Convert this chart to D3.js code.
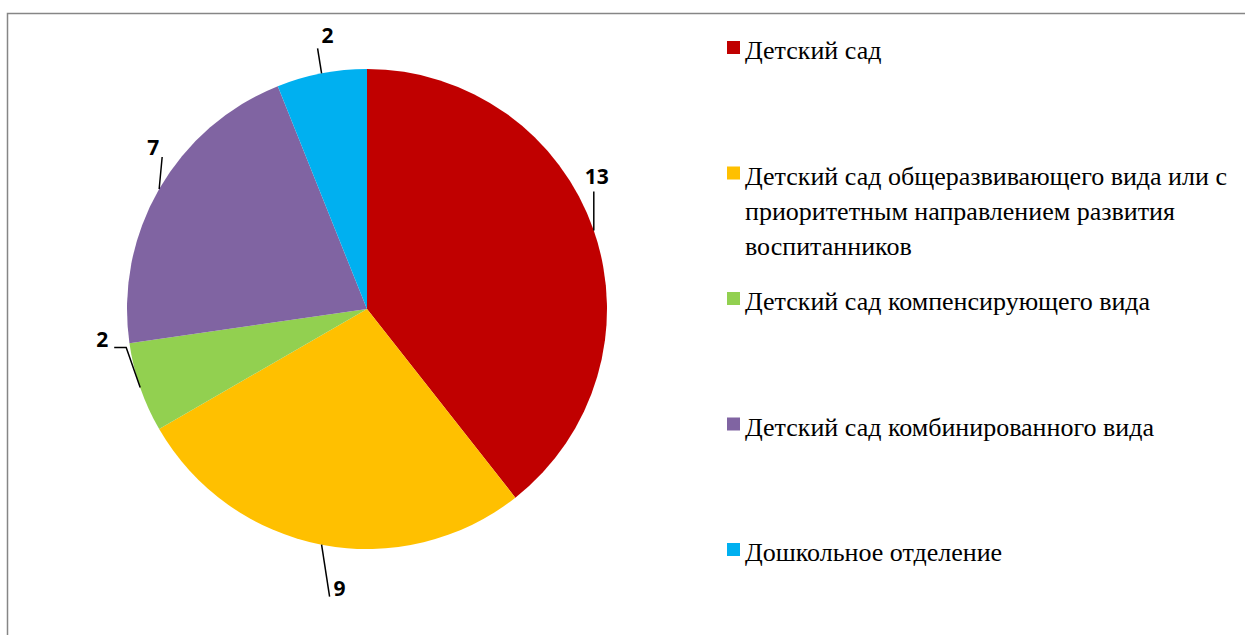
<!DOCTYPE html>
<html lang="ru">
<head>
<meta charset="UTF-8">
<title>Детские сады</title>
<script src="https://cdn.jsdelivr.net/npm/d3@7"></script>
<style>
body{margin:0;background:#fff;}
</style>
</head>
<body>
<script>
// данные
var categories = ["Детский сад",
  "Детский сад общеразвивающего вида или с приоритетным направлением развития воспитанников",
  "Детский сад компенсирующего вида",
  "Детский сад комбинированного вида",
  "Дошкольное отделение"];
var values = [13, 9, 2, 7, 2];
var colors = ["#C00000", "#FFC000", "#92D050", "#8064A2", "#00B0F0"];

// выноски: смещение излома от края сектора и смещение подписи
var leaderBend = [[0, -39], [8, 52], [-14, -40], [3, -32], [-4, -25]];
var leaderTail = [[0, 0], [0, 0], [-12, 0], [0, 0], [0, 0]];
var labelShift = [[3, -8], [10, -1], [-12, 0], [-9, -2], [10, -5]];

var width = 1245, height = 635;
var cx = 367, cy = 309, r = 240;

var svg = d3.select("body").append("svg").attr("width", width).attr("height", height);

// рамка
svg.append("rect").attr("x", 7.5).attr("y", 13.5).attr("width", 1260).attr("height", 650)
  .attr("fill", "none").attr("stroke", "#868686").attr("stroke-width", 1.5);

var pie = d3.pie().sort(null).value(function(d){return d;});
var arcs = pie(values);
var arc = d3.arc().innerRadius(0).outerRadius(r);

var g = svg.append("g").attr("transform", "translate(" + cx + "," + cy + ")");
g.selectAll("path").data(arcs).enter().append("path")
  .attr("d", arc)
  .attr("fill", function(d, i){return colors[i];});

// подписи с выносками
arcs.forEach(function(d, i){
  var a = (d.startAngle + d.endAngle) / 2;
  var p0 = [r * Math.sin(a), -r * Math.cos(a)];
  var p1 = [p0[0] + leaderBend[i][0], p0[1] + leaderBend[i][1]];
  var p2 = [p1[0] + leaderTail[i][0], p1[1] + leaderTail[i][1]];
  g.append("path").attr("d", d3.line()([p0, p1, p2]))
    .attr("fill", "none").attr("stroke", "#000").attr("stroke-width", 1.5);
  var lx = p2[0] + labelShift[i][0], ly = p2[1] + labelShift[i][1];
  g.append("text")
    .style("font-family", "'Open Sans', sans-serif")
    .style("font-weight", "bold").style("font-size", "21px")
    .attr("x", lx).attr("y", ly)
    .attr("text-anchor", "middle")
    .text(values[i]);
});

// легенда
var legX = 727, legY0 = 59, legStep = 125.5, lineH = 35, maxW = 495;
var leg = svg.append("g");
categories.forEach(function(name, i){
  var y = legY0 + i * legStep;
  leg.append("rect").attr("x", legX).attr("y", y - 18).attr("width", 13).attr("height", 13)
    .attr("fill", colors[i]);
  var t = leg.append("text").attr("x", legX + 18).attr("y", y)
    .style("font-family", "'Liberation Serif', serif").style("font-size", "26px").style("fill", "#000");
  var words = name.split(" "), line = [], n = 0;
  var ts = t.append("tspan").attr("x", legX + 18).attr("y", y);
  words.forEach(function(w){
    line.push(w);
    ts.text(line.join(" "));
    if (ts.node().getComputedTextLength() > maxW && line.length > 1) {
      line.pop();
      ts.text(line.join(" "));
      line = [w];
      n++;
      ts = t.append("tspan").attr("x", legX + 18).attr("y", y + n * lineH).text(w);
    }
  });
});
</script>
</body>
</html>
